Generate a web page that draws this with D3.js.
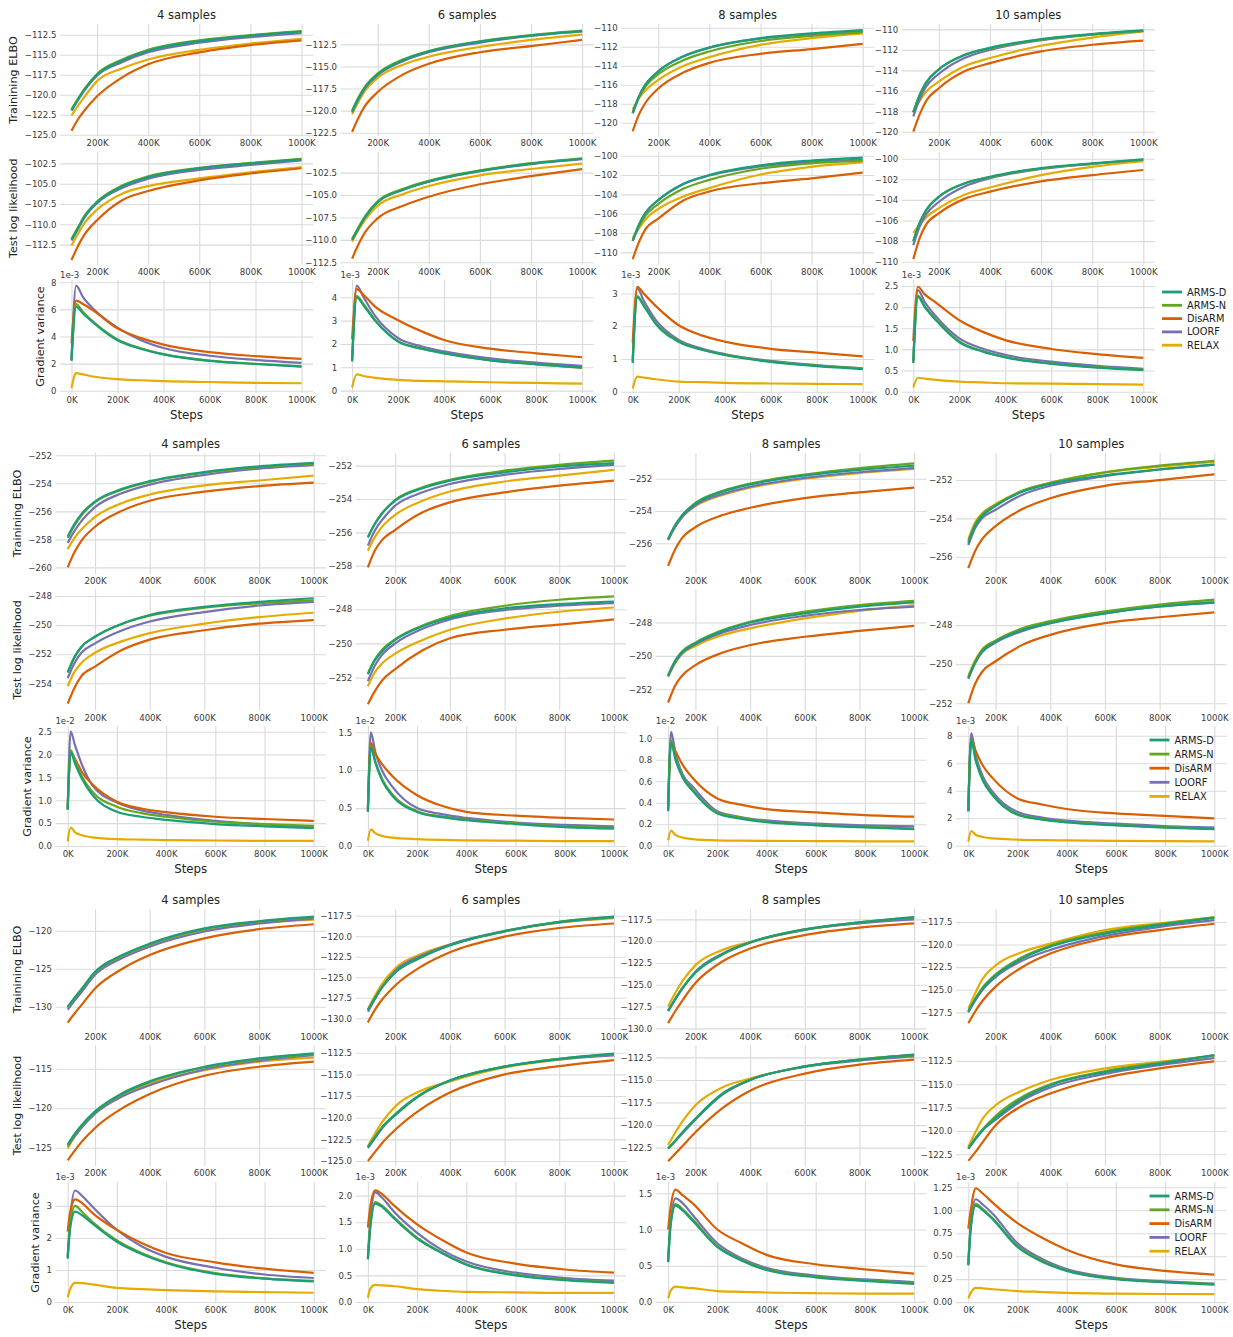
<!DOCTYPE html>
<html>
<head>
<meta charset="utf-8">
<script src="https://cdn.jsdelivr.net/npm/d3@7"></script>
<style>
  body { margin: 0; background: #fff; }
  svg text { font-family: "DejaVu Sans", "Liberation Sans", Arial, sans-serif; }
</style>
</head>
<body>
<svg id="chart" width="1233" height="1337"></svg>
<script>
// ---------- labels ----------
const methods = ["ARMS-D", "ARMS-N", "DisARM", "LOORF", "RELAX"];
const methodColors = ["#1b9e77", "#66a61e", "#d95f02", "#7570b3", "#e6ab02"];
const sampleTitles = ["4 samples", "6 samples", "8 samples", "10 samples"];
const rowLabels = ["Trainining ELBO", "Test log likelihood", "Gradient variance"];

// ---------- steps (thousands) ----------
const xTicksCurve = [200, 400, 600, 800, 1000];
const xTicksGrad = [0, 200, 400, 600, 800, 1000];
const curveSteps = [100, 125, 150, 200, 300, 400, 600, 800, 1000];
const gradStepsA = [0, 20, 50, 100, 200, 300, 400, 600, 800, 1000];
const gradStepsB = [0, 12, 30, 60, 100, 200, 300, 400, 600, 800, 1000];
const gradStepsC = [0, 10, 30, 60, 100, 200, 300, 400, 600, 800, 1000];

// ---------- experiment A (series order: ARMS-D, ARMS-N, DisARM, LOORF, RELAX) ----------
const A_elbo_4 = [
  [-121.9,-120.6,-119.4,-117.5,-115.7,-114.5,-113.3,-112.6,-112.1],
  [-121.8,-120.5,-119.3,-117.4,-115.6,-114.4,-113.2,-112.55,-112.05],
  [-124.5,-123.1,-122.0,-120.2,-117.8,-116.2,-114.7,-113.8,-113.2],
  [-122.0,-120.7,-119.5,-117.6,-115.9,-114.7,-113.5,-112.8,-112.3],
  [-122.6,-121.4,-120.3,-118.3,-116.7,-115.6,-114.4,-113.6,-113.0]];
const A_elbo_6 = [
  [-120.1,-118.6,-117.4,-115.9,-114.3,-113.3,-112.2,-111.5,-111.0],
  [-120.0,-118.5,-117.3,-115.8,-114.2,-113.25,-112.15,-111.45,-110.95],
  [-122.4,-120.8,-119.5,-117.9,-115.9,-114.7,-113.4,-112.7,-112.0],
  [-120.2,-118.7,-117.5,-116.0,-114.4,-113.4,-112.3,-111.55,-111.05],
  [-120.4,-119.0,-117.8,-116.3,-114.8,-113.9,-112.8,-112.0,-111.4]];
const A_elbo_8 = [
  [-119.0,-117.2,-116.0,-114.6,-113.0,-112.1,-111.1,-110.6,-110.25],
  [-119.0,-117.3,-116.2,-114.9,-113.4,-112.5,-111.4,-110.85,-110.5],
  [-120.9,-119.1,-117.9,-116.4,-114.7,-113.7,-112.75,-112.25,-111.7],
  [-119.0,-117.2,-116.0,-114.6,-113.0,-112.1,-111.15,-110.7,-110.4],
  [-118.6,-117.4,-116.6,-115.5,-114.0,-113.1,-111.8,-111.1,-110.6]];
const A_elbo_10 = [
  [-118.1,-116.4,-115.2,-113.9,-112.5,-111.8,-110.95,-110.45,-110.1],
  [-118.1,-116.4,-115.2,-113.9,-112.5,-111.85,-111.0,-110.5,-110.15],
  [-120.0,-118.3,-117.0,-115.75,-114.1,-113.3,-112.15,-111.5,-111.1],
  [-118.5,-116.8,-115.6,-114.35,-112.8,-112.0,-111.05,-110.5,-110.15],
  [-118.0,-117.0,-116.1,-115.1,-113.6,-112.8,-111.6,-110.8,-110.2]];

const A_ll_4 = [
  [-111.9,-110.5,-109.1,-107.3,-105.3,-104.2,-103.1,-102.5,-102.0],
  [-111.8,-110.4,-109.0,-107.2,-105.2,-104.1,-103.05,-102.45,-101.95],
  [-114.4,-112.7,-111.3,-109.5,-107.0,-105.9,-104.6,-103.75,-103.1],
  [-112.0,-110.6,-109.2,-107.4,-105.5,-104.4,-103.3,-102.7,-102.15],
  [-112.6,-111.2,-109.9,-108.2,-106.2,-105.3,-104.35,-103.6,-102.95]];
const A_ll_6 = [
  [-110.0,-108.7,-107.5,-105.8,-104.4,-103.5,-102.3,-101.5,-100.95],
  [-109.9,-108.6,-107.4,-105.7,-104.3,-103.4,-102.25,-101.45,-100.9],
  [-112.1,-110.5,-109.2,-107.6,-106.2,-105.2,-103.8,-102.9,-102.1],
  [-110.0,-108.7,-107.5,-105.8,-104.4,-103.5,-102.35,-101.55,-101.0],
  [-110.2,-108.9,-107.8,-106.2,-104.9,-104.0,-102.8,-102.1,-101.5]];
const A_ll_8 = [
  [-108.8,-107.1,-105.9,-104.6,-102.9,-102.0,-101.0,-100.5,-100.2],
  [-108.8,-107.3,-106.2,-105.0,-103.4,-102.5,-101.35,-100.8,-100.55],
  [-110.7,-108.9,-107.6,-106.5,-104.6,-103.7,-102.85,-102.35,-101.75],
  [-108.8,-107.1,-105.9,-104.6,-102.9,-102.05,-101.1,-100.65,-100.4],
  [-108.5,-107.5,-106.6,-105.5,-104.2,-103.35,-101.95,-101.15,-100.7]];
const A_ll_10 = [
  [-108.0,-106.2,-105.0,-103.7,-102.4,-101.75,-100.9,-100.45,-100.05],
  [-108.0,-106.2,-105.0,-103.7,-102.4,-101.8,-100.95,-100.5,-100.1],
  [-109.75,-107.7,-106.4,-105.3,-103.9,-103.2,-102.2,-101.6,-101.1],
  [-108.4,-106.6,-105.4,-104.2,-102.7,-101.9,-101.0,-100.5,-100.1],
  [-107.2,-106.4,-105.7,-104.8,-103.5,-102.8,-101.6,-100.8,-100.25]];

// gradient variance, units of 1e-3
const A_gv_4 = [
  [2.2,6.2,5.7,4.95,3.72,3.1,2.68,2.2,1.97,1.77],
  [2.3,6.4,5.8,5.0,3.78,3.13,2.7,2.22,1.99,1.8],
  [3.5,6.65,6.4,5.85,4.6,3.9,3.4,2.85,2.55,2.35],
  [2.3,7.75,6.9,5.95,4.65,3.75,3.15,2.58,2.27,2.05],
  [0.2,1.3,1.2,1.03,0.85,0.77,0.71,0.64,0.58,0.55]];
const A_gv_6 = [
  [1.25,4.0,3.65,3.0,2.1,1.8,1.6,1.3,1.13,1.0],
  [1.3,4.05,3.7,3.02,2.12,1.81,1.61,1.31,1.14,0.98],
  [2.2,4.35,4.1,3.6,3.02,2.55,2.17,1.8,1.6,1.43],
  [1.3,4.5,4.0,3.2,2.25,1.9,1.68,1.38,1.2,1.06],
  [0.14,0.7,0.63,0.55,0.46,0.42,0.4,0.36,0.33,0.3]];
const A_gv_8 = [
  [0.88,2.88,2.6,2.07,1.52,1.28,1.12,0.91,0.78,0.69],
  [0.9,2.92,2.62,2.09,1.54,1.29,1.13,0.92,0.8,0.71],
  [1.5,3.2,2.98,2.62,2.03,1.72,1.53,1.31,1.19,1.08],
  [1.0,3.15,2.75,2.19,1.58,1.32,1.15,0.94,0.81,0.71],
  [0.1,0.46,0.43,0.38,0.31,0.29,0.27,0.25,0.24,0.23]];
const A_gv_10 = [
  [0.68,2.24,2.0,1.68,1.17,0.95,0.81,0.66,0.57,0.51],
  [0.7,2.27,2.02,1.7,1.19,0.96,0.82,0.67,0.58,0.52],
  [1.2,2.48,2.3,2.1,1.69,1.42,1.22,1.01,0.89,0.8],
  [0.75,2.4,2.12,1.77,1.26,1.02,0.87,0.71,0.61,0.54],
  [0.1,0.33,0.31,0.28,0.24,0.22,0.2,0.19,0.18,0.17]];

// ---------- experiment B ----------
const B_elbo_4 = [
  [-257.8,-256.9,-256.2,-255.3,-254.4,-253.85,-253.2,-252.8,-252.55],
  [-257.9,-257.0,-256.3,-255.35,-254.45,-253.9,-253.25,-252.85,-252.6],
  [-260.0,-258.9,-258.1,-257.1,-255.95,-255.25,-254.6,-254.2,-253.95],
  [-258.25,-257.4,-256.7,-255.7,-254.7,-254.1,-253.4,-252.95,-252.7],
  [-258.7,-257.9,-257.3,-256.4,-255.4,-254.8,-254.15,-253.8,-253.45]];
const B_elbo_6 = [
  [-256.3,-255.5,-254.9,-254.1,-253.35,-252.9,-252.4,-252.05,-251.85],
  [-256.3,-255.5,-254.9,-254.05,-253.3,-252.85,-252.3,-251.95,-251.7],
  [-258.1,-257.1,-256.5,-255.85,-254.8,-254.2,-253.6,-253.2,-252.9],
  [-256.8,-255.9,-255.3,-254.4,-253.6,-253.1,-252.55,-252.2,-251.95],
  [-257.1,-256.3,-255.7,-254.95,-254.1,-253.55,-252.95,-252.6,-252.25]];
const B_elbo_8 = [
  [-255.75,-254.9,-254.3,-253.55,-252.8,-252.35,-251.8,-251.45,-251.2],
  [-255.75,-254.9,-254.3,-253.5,-252.75,-252.3,-251.75,-251.35,-251.05],
  [-257.4,-256.4,-255.7,-255.0,-254.25,-253.8,-253.2,-252.85,-252.55],
  [-255.8,-255.0,-254.4,-253.65,-252.95,-252.5,-251.95,-251.6,-251.35],
  [-255.8,-255.0,-254.4,-253.7,-253.0,-252.55,-252.0,-251.65,-251.4]];
const B_elbo_10 = [
  [-255.3,-254.4,-253.9,-253.35,-252.6,-252.2,-251.75,-251.45,-251.2],
  [-255.2,-254.3,-253.8,-253.3,-252.55,-252.15,-251.6,-251.25,-251.0],
  [-256.6,-255.7,-255.1,-254.4,-253.5,-252.95,-252.3,-252.0,-251.7],
  [-255.4,-254.5,-254.0,-253.55,-252.75,-252.3,-251.8,-251.45,-251.2],
  [-255.1,-254.2,-253.75,-253.25,-252.55,-252.15,-251.6,-251.3,-251.05]];

const B_ll_4 = [
  [-253.25,-252.2,-251.5,-250.8,-249.9,-249.3,-248.75,-248.4,-248.15],
  [-253.25,-252.2,-251.5,-250.8,-249.9,-249.35,-248.8,-248.5,-248.3],
  [-255.4,-254.3,-253.5,-252.85,-251.7,-251.0,-250.35,-249.9,-249.65],
  [-253.65,-252.6,-251.9,-251.25,-250.35,-249.75,-249.1,-248.65,-248.4],
  [-254.2,-253.2,-252.6,-251.9,-251.1,-250.55,-249.9,-249.45,-249.15]];
const B_ll_6 = [
  [-251.8,-251.0,-250.5,-249.8,-249.0,-248.5,-247.95,-247.7,-247.55],
  [-251.75,-250.95,-250.4,-249.75,-248.95,-248.4,-247.8,-247.45,-247.25],
  [-253.55,-252.8,-252.2,-251.5,-250.4,-249.7,-249.2,-248.9,-248.6],
  [-252.2,-251.3,-250.7,-250.0,-249.15,-248.6,-248.05,-247.8,-247.65],
  [-252.5,-251.7,-251.2,-250.6,-249.8,-249.2,-248.55,-248.15,-247.9]];
const B_ll_8 = [
  [-251.2,-250.35,-249.8,-249.25,-248.5,-248.0,-247.45,-247.05,-246.8],
  [-251.15,-250.3,-249.75,-249.2,-248.45,-247.95,-247.35,-246.95,-246.7],
  [-252.8,-251.8,-251.2,-250.55,-249.8,-249.35,-248.85,-248.5,-248.2],
  [-251.2,-250.4,-249.85,-249.3,-248.6,-248.15,-247.6,-247.25,-247.05],
  [-251.25,-250.45,-249.9,-249.4,-248.75,-248.35,-247.75,-247.3,-246.95]];
const B_ll_10 = [
  [-250.7,-249.9,-249.35,-248.85,-248.25,-247.9,-247.4,-247.05,-246.85],
  [-250.7,-249.9,-249.3,-248.8,-248.15,-247.8,-247.3,-246.95,-246.7],
  [-252.0,-251.0,-250.4,-249.85,-249.0,-248.5,-247.9,-247.6,-247.35],
  [-250.75,-249.95,-249.4,-248.9,-248.3,-247.9,-247.4,-247.05,-246.85],
  [-250.6,-249.8,-249.25,-248.8,-248.2,-247.85,-247.35,-247.0,-246.8]];

// gradient variance: 4, 6, 8 samples in units of 1e-2, 10 samples in 1e-3
const B_gv_4 = [
  [0.8,2.05,1.8,1.45,1.12,0.75,0.64,0.57,0.48,0.43,0.39],
  [0.8,2.1,1.85,1.5,1.19,0.86,0.72,0.64,0.53,0.48,0.44],
  [0.85,2.05,1.9,1.6,1.35,0.97,0.82,0.74,0.64,0.59,0.55],
  [0.8,2.5,2.2,1.75,1.33,0.95,0.78,0.68,0.55,0.47,0.42],
  [0.1,0.4,0.3,0.23,0.19,0.15,0.14,0.13,0.12,0.11,0.11]];
const B_gv_6 = [
  [0.45,1.3,1.1,0.85,0.66,0.45,0.38,0.34,0.29,0.25,0.23],
  [0.46,1.32,1.12,0.87,0.68,0.46,0.39,0.35,0.3,0.26,0.24],
  [0.5,1.36,1.22,1.07,0.92,0.67,0.53,0.45,0.4,0.37,0.35],
  [0.45,1.5,1.24,0.98,0.78,0.5,0.42,0.37,0.31,0.28,0.26],
  [0.07,0.22,0.17,0.13,0.11,0.09,0.08,0.075,0.07,0.065,0.065]];
const B_gv_8 = [
  [0.32,0.96,0.8,0.63,0.51,0.3,0.25,0.22,0.19,0.17,0.155],
  [0.33,0.98,0.82,0.64,0.52,0.31,0.26,0.225,0.195,0.175,0.16],
  [0.35,0.97,0.88,0.75,0.63,0.44,0.38,0.34,0.31,0.285,0.27],
  [0.33,1.06,0.86,0.66,0.55,0.32,0.265,0.235,0.205,0.19,0.18],
  [0.05,0.14,0.1,0.075,0.062,0.05,0.047,0.045,0.043,0.041,0.04]];
const B_gv_10 = [
  [2.5,7.7,6.2,4.7,3.65,2.25,1.9,1.7,1.48,1.32,1.2],
  [2.5,7.8,6.3,4.8,3.7,2.3,1.93,1.73,1.51,1.35,1.23],
  [2.6,7.8,6.9,5.8,4.9,3.44,3.0,2.67,2.35,2.17,1.99],
  [2.5,8.2,6.6,5.0,3.9,2.45,2.05,1.82,1.6,1.43,1.33],
  [0.3,1.07,0.8,0.63,0.53,0.44,0.4,0.38,0.35,0.33,0.32]];

// ---------- experiment C ----------
const C_elbo_4 = [
  [-130.0,-128.8,-127.7,-125.4,-123.2,-121.7,-119.7,-118.75,-118.15],
  [-130.1,-128.9,-127.8,-125.5,-123.3,-121.8,-119.8,-118.8,-118.2],
  [-132.1,-130.9,-129.8,-127.6,-125.0,-123.2,-121.0,-119.8,-119.15],
  [-130.4,-129.2,-128.1,-125.8,-123.6,-122.1,-120.1,-119.05,-118.4],
  [-130.2,-128.9,-127.8,-125.5,-123.3,-121.85,-119.9,-119.0,-118.55]];
const C_elbo_6 = [
  [-129.0,-127.6,-126.3,-124.4,-122.5,-121.1,-119.4,-118.25,-117.6],
  [-129.0,-127.6,-126.3,-124.4,-122.5,-121.1,-119.4,-118.25,-117.65],
  [-130.5,-129.0,-127.8,-126.0,-123.6,-121.95,-120.05,-119.0,-118.45],
  [-129.2,-127.7,-126.3,-124.2,-122.3,-121.0,-119.35,-118.3,-117.7],
  [-128.9,-127.3,-125.9,-123.9,-122.1,-121.0,-119.4,-118.35,-117.8]];
const C_elbo_8 = [
  [-128.0,-126.7,-125.5,-123.6,-121.5,-120.15,-118.65,-117.85,-117.25],
  [-128.0,-126.7,-125.5,-123.6,-121.5,-120.15,-118.65,-117.85,-117.3],
  [-129.4,-128.1,-126.9,-124.8,-122.3,-120.85,-119.3,-118.45,-117.95],
  [-128.0,-126.7,-125.5,-123.5,-121.4,-120.15,-118.7,-117.95,-117.5],
  [-127.5,-126.0,-124.7,-122.75,-121.0,-120.1,-118.7,-117.9,-117.4]];
const C_elbo_10 = [
  [-127.4,-126.1,-125.0,-123.45,-121.5,-120.25,-118.8,-117.85,-117.05],
  [-127.4,-126.0,-124.85,-123.3,-121.35,-120.1,-118.65,-117.75,-117.0],
  [-128.7,-127.4,-126.3,-124.65,-122.45,-121.0,-119.3,-118.4,-117.7],
  [-127.5,-126.2,-125.1,-123.6,-121.75,-120.6,-119.05,-118.05,-117.3],
  [-127.1,-125.4,-123.9,-122.3,-120.8,-119.9,-118.4,-117.65,-117.0]];

const C_ll_4 = [
  [-124.6,-123.3,-122.2,-120.4,-118.1,-116.6,-114.75,-113.7,-113.05],
  [-124.7,-123.4,-122.3,-120.5,-118.2,-116.7,-114.85,-113.8,-113.15],
  [-126.6,-125.4,-124.3,-122.5,-120.0,-118.2,-115.9,-114.75,-114.1],
  [-124.8,-123.6,-122.5,-120.7,-118.5,-117.1,-115.1,-114.0,-113.3],
  [-125.1,-123.6,-122.4,-120.5,-118.3,-116.9,-115.2,-114.1,-113.6]];
const C_ll_6 = [
  [-123.4,-122.3,-121.2,-119.7,-117.2,-115.7,-114.1,-113.2,-112.6],
  [-123.4,-122.3,-121.2,-119.6,-117.2,-115.7,-114.1,-113.2,-112.65],
  [-125.0,-124.0,-123.0,-121.4,-118.9,-117.1,-115.0,-114.05,-113.35],
  [-123.5,-122.4,-121.3,-119.6,-117.2,-115.7,-114.1,-113.25,-112.8],
  [-123.3,-121.9,-120.6,-118.7,-116.8,-115.8,-114.2,-113.3,-112.7]];
const C_ll_8 = [
  [-122.6,-121.8,-120.9,-119.3,-116.5,-115.0,-113.5,-112.75,-112.2],
  [-122.6,-121.8,-120.9,-119.3,-116.5,-115.0,-113.5,-112.75,-112.25],
  [-124.0,-123.2,-122.4,-120.8,-118.1,-116.2,-114.3,-113.3,-112.75],
  [-122.6,-121.8,-121.0,-119.4,-116.6,-115.0,-113.55,-112.85,-112.4],
  [-122.2,-120.9,-119.7,-117.8,-115.8,-114.85,-113.5,-112.75,-112.2]];
const C_ll_10 = [
  [-121.9,-120.9,-120.0,-118.65,-116.5,-115.1,-113.7,-112.8,-111.9],
  [-121.9,-120.8,-119.9,-118.4,-116.3,-115.0,-113.6,-112.7,-111.9],
  [-123.2,-122.3,-121.3,-119.4,-117.25,-116.0,-114.3,-113.3,-112.55],
  [-121.9,-120.9,-120.0,-118.8,-116.7,-115.35,-113.9,-112.95,-112.2],
  [-121.7,-120.2,-118.8,-117.25,-115.65,-114.55,-113.3,-112.6,-111.95]];

// gradient variance, units of 1e-3
const C_gv_4 = [
  [1.35,2.3,2.82,2.7,2.45,1.88,1.5,1.22,0.88,0.73,0.64],
  [1.4,2.4,3.0,2.8,2.5,1.92,1.53,1.24,0.9,0.74,0.66],
  [2.2,2.8,3.2,3.08,2.78,2.25,1.84,1.53,1.24,1.04,0.91],
  [1.4,2.6,3.48,3.3,2.98,2.25,1.74,1.41,1.07,0.86,0.75],
  [0.15,0.4,0.6,0.59,0.55,0.44,0.4,0.37,0.33,0.31,0.29]];
const C_gv_6 = [
  [0.8,1.4,1.85,1.78,1.6,1.19,0.92,0.7,0.5,0.41,0.36],
  [0.82,1.45,1.88,1.8,1.62,1.21,0.93,0.71,0.51,0.42,0.37],
  [1.4,1.8,2.1,2.02,1.84,1.46,1.17,0.93,0.72,0.61,0.55],
  [0.85,1.55,2.06,1.95,1.73,1.3,0.98,0.76,0.55,0.45,0.4],
  [0.08,0.25,0.32,0.31,0.3,0.24,0.21,0.19,0.18,0.17,0.17]];
const C_gv_8 = [
  [0.55,1.05,1.33,1.26,1.12,0.76,0.57,0.44,0.34,0.29,0.25],
  [0.56,1.07,1.35,1.28,1.14,0.77,0.58,0.45,0.35,0.3,0.26],
  [1.0,1.3,1.55,1.47,1.36,1.0,0.81,0.65,0.52,0.45,0.39],
  [0.55,1.1,1.43,1.36,1.2,0.81,0.6,0.47,0.365,0.31,0.275],
  [0.05,0.15,0.21,0.2,0.19,0.15,0.14,0.13,0.12,0.115,0.115]];
const C_gv_10 = [
  [0.4,0.8,1.05,1.0,0.9,0.6,0.44,0.34,0.25,0.215,0.19],
  [0.41,0.82,1.07,1.01,0.91,0.61,0.45,0.345,0.255,0.22,0.195],
  [0.8,1.0,1.24,1.18,1.08,0.86,0.7,0.57,0.41,0.34,0.3],
  [0.42,0.85,1.12,1.06,0.96,0.64,0.47,0.36,0.265,0.225,0.2],
  [0.04,0.1,0.155,0.15,0.14,0.12,0.11,0.1,0.092,0.088,0.087]];

// ---------- y ticks, y limits and scale exponents ----------
const A_yTicks = [
  [[-125,-122.5,-120,-117.5,-115,-112.5],[-122.5,-120,-117.5,-115,-112.5],[-120,-118,-116,-114,-112,-110],[-120,-118,-116,-114,-112,-110]],
  [[-112.5,-110,-107.5,-105,-102.5],[-112.5,-110,-107.5,-105,-102.5],[-110,-108,-106,-104,-102,-100],[-110,-108,-106,-104,-102,-100]],
  [[0,2,4,6,8],[0,1,2,3,4],[0,1,2,3],[0,0.5,1,1.5,2,2.5]]];
const A_yLim = [
  [[-125.16,-111.16],[-122.87,-110.2],[-121.4,-109.61],[-120.42,-109.47]],
  [[-114.95,-101.1],[-112.75,-100.2],[-111.25,-99.62],[-110.27,-99.35]],
  [[-0.17,8.17],[-0.1,4.74],[-0.04,3.41],[-0.03,2.64]]];
const A_exp = ["1e-3","1e-3","1e-3","1e-3"];

const B_yTicks = [
  [[-260,-258,-256,-254,-252],[-258,-256,-254,-252],[-256,-254,-252],[-256,-254,-252]],
  [[-254,-252,-250,-248],[-252,-250,-248],[-252,-250,-248],[-252,-250,-248]],
  [[0,0.5,1,1.5,2,2.5],[0,0.5,1,1.5],[0,0.2,0.4,0.6,0.8,1],[0,2,4,6,8]]];
const B_yLim = [
  [[-260.47,-251.84],[-258.5,-251.24],[-257.9,-250.41],[-256.9,-250.59]],
  [[-255.87,-247.55],[-253.92,-246.85],[-253.27,-246.02],[-252.37,-246.18]],
  [[-0.022,2.625],[-0.013,1.583],[-0.012,1.114],[-0.095,8.71]]];
const B_exp = ["1e-2","1e-2","1e-2","1e-3"];

const C_yTicks = [
  [[-130,-125,-120],[-130,-127.5,-125,-122.5,-120,-117.5],[-130,-127.5,-125,-122.5,-120,-117.5],[-127.5,-125,-122.5,-120,-117.5]],
  [[-125,-120,-115],[-125,-122.5,-120,-117.5,-115,-112.5],[-122.5,-120,-117.5,-115,-112.5],[-122.5,-120,-117.5,-115,-112.5]],
  [[0,1,2,3],[0,0.5,1,1.5,2],[0,0.5,1,1.5],[0,0.25,0.5,0.75,1,1.25]]];
const C_yLim = [
  [[-133.07,-117.14],[-131.43,-116.68],[-130.19,-116.31],[-129.45,-116.07]],
  [[-127.32,-112.0],[-125.58,-111.6],[-124.53,-111.13],[-123.75,-110.8]],
  [[-0.03,3.745],[-0.02,2.256],[-0.015,1.656],[-0.01,1.308]]];
const C_exp = ["1e-3","1e-3","1e-3","1e-3"];

// ---------- layout of the three experiment blocks ----------
const blocks = [
  { data: [[A_elbo_4, A_elbo_6, A_elbo_8, A_elbo_10], [A_ll_4, A_ll_6, A_ll_8, A_ll_10], [A_gv_4, A_gv_6, A_gv_8, A_gv_10]],
    gradSteps: gradStepsA, yTicks: A_yTicks, yLim: A_yLim, exp: A_exp,
    lefts: [60, 340.6, 621.2, 901.8], width: 253,
    rows: [[24, 136], [152, 264.5], [280, 393]],
    legend: { x: 1162, y: 292, dy: 13.3 } },
  { data: [[B_elbo_4, B_elbo_6, B_elbo_8, B_elbo_10], [B_ll_4, B_ll_6, B_ll_8, B_ll_10], [B_gv_4, B_gv_6, B_gv_8, B_gv_10]],
    gradSteps: gradStepsB, yTicks: B_yTicks, yLim: B_yLim, exp: B_exp,
    lefts: [55.4, 355.6, 655.8, 956.0], width: 270.6,
    rows: [[453, 574], [589.5, 710.5], [726, 847]],
    legend: { x: 1149.5, y: 740, dy: 14.1 } },
  { data: [[C_elbo_4, C_elbo_6, C_elbo_8, C_elbo_10], [C_ll_4, C_ll_6, C_ll_8, C_ll_10], [C_gv_4, C_gv_6, C_gv_8, C_gv_10]],
    gradSteps: gradStepsC, yTicks: C_yTicks, yLim: C_yLim, exp: C_exp,
    lefts: [55.4, 355.6, 655.8, 956.0], width: 270.6,
    rows: [[909, 1030], [1045, 1166], [1182, 1303]],
    legend: { x: 1149.5, y: 1196, dy: 13.8 } }
];

const GRID = "#dadada", TICK_TXT = "#3a3a3a", LABEL_TXT = "#222";
const FONT = '"DejaVu Sans", "Liberation Sans", Arial, sans-serif';
const TICK_SIZE = 8.6, LABEL_SIZE = 11.5, LEGEND_SIZE = 9.8;
const svg = d3.select("#chart");
const defs = svg.append("defs");
const drawOrder = [4, 3, 2, 1, 0]; // ARMS-D ends up on top

function decimals(ticks) {
  return d3.max(ticks, t => {
    const s = String(Math.abs(t));
    return s.includes(".") ? s.split(".")[1].length : 0;
  });
}

blocks.forEach((b, bi) => {
  b.rows.forEach(([top, bottom], ri) => {
    b.lefts.forEach((left, ci) => {
      const right = left + b.width;
      const isGrad = ri === 2;
      const steps = isGrad ? b.gradSteps : curveSteps;
      const x = d3.scaleLinear().domain(isGrad ? [-50, 1050] : [55, 1045]).range([left, right]);
      const y = d3.scaleLinear().domain(b.yLim[ri][ci]).range([bottom, top]);
      const ticks = b.yTicks[ri][ci];
      const fmt = d3.format("." + decimals(ticks) + "f");

      const panel = svg.append("g");

      // y grid + tick labels
      const gy = panel.append("g").attr("transform", `translate(${left},0)`)
        .call(d3.axisLeft(y).tickValues(ticks).tickFormat(fmt)
          .tickSize(-(right - left)).tickPadding(3.5));
      gy.select(".domain").remove();
      gy.selectAll(".tick line").attr("stroke", GRID).attr("stroke-width", 1.1);
      gy.selectAll(".tick text").attr("fill", TICK_TXT).attr("font-size", TICK_SIZE).attr("font-family", FONT);

      // x grid + tick labels
      const gx = panel.append("g").attr("transform", `translate(0,${bottom})`)
        .call(d3.axisBottom(x).tickValues(isGrad ? xTicksGrad : xTicksCurve)
          .tickFormat(d => d + "K").tickSize(-(bottom - top)).tickPadding(4));
      gx.select(".domain").remove();
      gx.selectAll(".tick line").attr("stroke", GRID).attr("stroke-width", 1.1);
      gx.selectAll(".tick text").attr("fill", TICK_TXT).attr("font-size", TICK_SIZE).attr("font-family", FONT);

      // curves
      const clipId = `clip-${bi}-${ri}-${ci}`;
      defs.append("clipPath").attr("id", clipId).append("rect")
        .attr("x", left).attr("y", top - 1).attr("width", right - left).attr("height", bottom - top + 2);
      const line = d3.line().x(d => x(d[0])).y(d => y(d[1])).curve(d3.curveMonotoneX);
      const series = b.data[ri][ci];
      const lines = panel.append("g").attr("clip-path", `url(#${clipId})`);
      drawOrder.forEach(mi => {
        lines.append("path")
          .datum(steps.map((s, k) => [s, series[mi][k]]))
          .attr("fill", "none").attr("stroke", methodColors[mi])
          .attr("stroke-width", 2.2).attr("stroke-linejoin", "round")
          .attr("d", line);
      });

      // column titles on top row
      if (ri === 0) {
        svg.append("text").attr("x", (left + right) / 2).attr("y", top - 5)
          .attr("text-anchor", "middle").attr("font-size", LABEL_SIZE).attr("fill", LABEL_TXT)
          .text(sampleTitles[ci]);
      }
      // scale exponent and step label on gradient row
      if (isGrad) {
        svg.append("text").attr("x", left).attr("y", top - 2.5)
          .attr("font-size", TICK_SIZE).attr("fill", TICK_TXT).text(b.exp[ci]);
        svg.append("text").attr("x", (left + right) / 2).attr("y", bottom + 25.5)
          .attr("text-anchor", "middle").attr("font-size", 11.8).attr("fill", LABEL_TXT)
          .text("Steps");
      }
      // row label on first column, placed left of the widest tick label
      if (ci === 0) {
        let maxW = 0;
        gy.selectAll(".tick text").each(function () { maxW = Math.max(maxW, this.getComputedTextLength()); });
        const lx = left - 3.5 - maxW - 11;
        const ly = (top + bottom) / 2;
        svg.append("text").attr("transform", `translate(${lx},${ly}) rotate(-90)`)
          .attr("text-anchor", "middle").attr("dominant-baseline", "central")
          .attr("font-size", 11.2).attr("fill", LABEL_TXT).text(rowLabels[ri]);
      }
    });
  });

  // legend
  const lg = svg.append("g");
  methods.forEach((m, mi) => {
    const yy = b.legend.y + mi * b.legend.dy;
    lg.append("line").attr("x1", b.legend.x).attr("x2", b.legend.x + 20)
      .attr("y1", yy).attr("y2", yy).attr("stroke", methodColors[mi]).attr("stroke-width", 2.8);
    lg.append("text").attr("x", b.legend.x + 25).attr("y", yy).attr("dominant-baseline", "central")
      .attr("font-size", LEGEND_SIZE).attr("fill", LABEL_TXT).text(m);
  });
});
</script>
</body>
</html>
